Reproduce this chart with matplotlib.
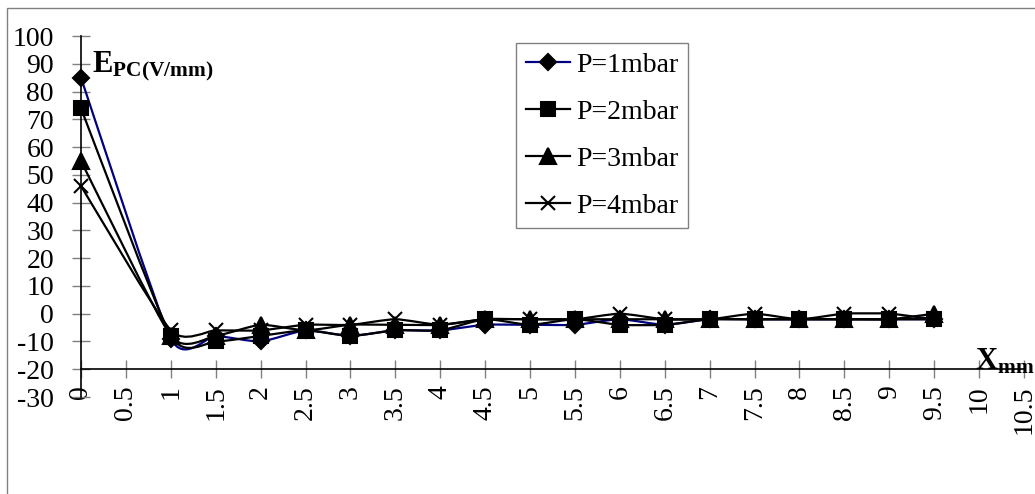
import numpy as np
import matplotlib
matplotlib.use("Agg")
import matplotlib.pyplot as plt
from matplotlib.path import Path
from matplotlib.patches import PathPatch, Rectangle
from matplotlib.lines import Line2D

# data
x_mm = [0, 1, 1.5, 2, 2.5, 3, 3.5, 4, 4.5, 5, 5.5, 6, 6.5, 7, 7.5, 8, 8.5, 9, 9.5]
e_p1 = [85, -9, -8, -10, -6, -8, -6, -6, -4, -4, -4, -2, -4, -2, -2, -2, -2, -2, -2]
e_p2 = [74, -8, -10, -8, -6, -8, -6, -6, -2, -4, -2, -4, -4, -2, -2, -2, -2, -2, -2]
e_p3 = [55, -8, -8, -4, -6, -4, -4, -4, -2, -2, -2, -2, -2, -2, -2, -2, -2, -2, 0]
e_p4 = [46, -6, -6, -6, -4, -4, -2, -4, -2, -2, -2, 0, -2, -2, 0, -2, 0, 0, -2]
series_labels = ["P=1mbar", "P=2mbar", "P=3mbar", "P=4mbar"]
x_ticks = [0, 0.5, 1, 1.5, 2, 2.5, 3, 3.5, 4, 4.5, 5, 5.5, 6, 6.5, 7, 7.5, 8, 8.5, 9, 9.5, 10, 10.5]
x_tick_labels = ["0", "0.5", "1", "1.5", "2", "2.5", "3", "3.5", "4", "4.5", "5", "5.5",
                 "6", "6.5", "7", "7.5", "8", "8.5", "9", "9.5", "10", "10.5"]
y_ticks = [-30, -20, -10, 0, 10, 20, 30, 40, 50, 60, 70, 80, 90, 100]

plt.rcParams["font.family"] = ["Liberation Serif", "DejaVu Serif"]
plt.rcParams["axes.unicode_minus"] = False
plt.rcParams["mathtext.fontset"] = "custom"
plt.rcParams["mathtext.rm"] = "Liberation Serif"
plt.rcParams["mathtext.bf"] = "Liberation Serif:bold"


def smooth_path(xs, ys, k=0.1):
    # Excel style smoothed line: cubic bezier through every point
    pts = np.column_stack([xs, ys]).astype(float)
    ext = np.vstack([pts[0], pts, pts[-1]])
    verts = [pts[0]]
    codes = [Path.MOVETO]
    for i in range(len(pts) - 1):
        p0, p1, p2, p3 = ext[i], ext[i + 1], ext[i + 2], ext[i + 3]
        c1 = p1 + (p2 - p0) * k
        c2 = p2 - (p3 - p1) * k
        verts += [c1, c2, p2]
        codes += [Path.CURVE4] * 3
    return Path(verts, codes)


W, H = 1035, 494
fig = plt.figure(figsize=(W / 100, H / 100), dpi=100)
ax = fig.add_axes([81 / W, 1 - 397 / H, (1024 - 81) / W, (397 - 36) / H])

styles = [
    dict(color="#000080", marker="D", ms=8),
    dict(color="black", marker="s", ms=10),
    dict(color="black", marker="^", ms=11),
    dict(color="black", marker="x", ms=10),
]
handles = []
for ys, st, lab in zip([e_p1, e_p2, e_p3, e_p4], styles, series_labels):
    patch = PathPatch(smooth_path(x_mm, ys), fill=False, edgecolor=st["color"], lw=1.6,
                      zorder=3, clip_on=False)
    ax.add_patch(patch)
    ax.plot(x_mm, ys, linestyle="none", marker=st["marker"], ms=st["ms"],
            color="black", mec="black", mew=1.5, zorder=4, clip_on=False)
    handles.append(Line2D([], [], color=st["color"], lw=1.6, marker=st["marker"],
                          ms=st["ms"], mfc="black", mec="black", mew=1.5))

ax.set_xlim(0, 10.5)
ax.set_ylim(-30, 100)
ax.set_xticks(x_ticks)
ax.set_xticklabels(x_tick_labels)
ax.set_yticks(y_ticks)
ax.set_yticklabels([str(v) for v in y_ticks])

ax.spines["top"].set_visible(False)
ax.spines["right"].set_visible(False)
ax.spines["bottom"].set_position(("data", -20))
ax.spines["left"].set_linewidth(1.2)
ax.spines["bottom"].set_linewidth(1.2)
ax.tick_params(axis="both", direction="inout", length=13, width=1, color="#808080",
               labelsize=20)
ax.tick_params(axis="y", pad=13)
ax.tick_params(axis="x", pad=5, labelrotation=90)
ax.patch.set_visible(False)

leg = ax.legend(handles, series_labels, loc="upper left",
                bbox_to_anchor=(516 / W, 1 - 43 / H), bbox_transform=fig.transFigure,
                borderaxespad=0, fontsize=20, handlelength=1.6, handletextpad=0.2,
                labelspacing=0.77, borderpad=0.35, fancybox=False, framealpha=1,
                edgecolor="#808080")
leg.get_frame().set_linewidth(1)

fig.text(92 / W, 1 - 72 / H, r"$\mathbf{E_{PC(V/mm)}}$", fontsize=22, va="baseline")
fig.text(975 / W, 1 - 369 / H, r"$\mathbf{X_{mm}}$", fontsize=22, va="baseline")

# chart area border
fig.patches.append(Rectangle((7 / W, -1), 2, 1 - 8 / H + 1, transform=fig.transFigure,
                             fill=False, edgecolor="#808080", lw=1))

fig.savefig("out.png", dpi=100)
